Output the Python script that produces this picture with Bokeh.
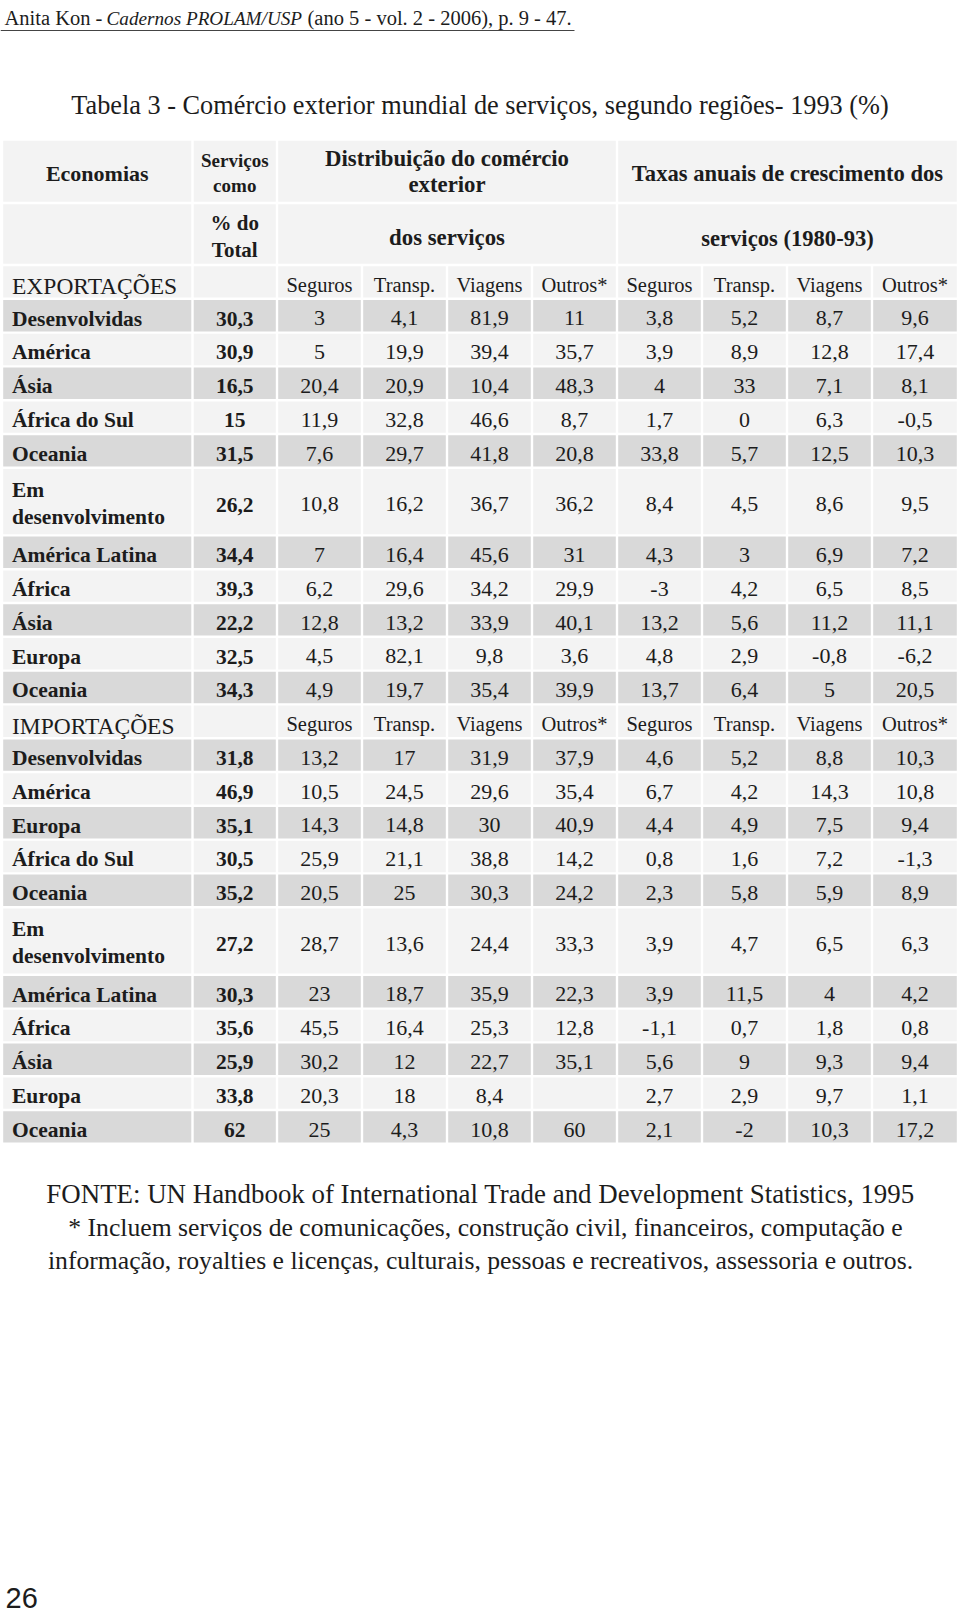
from bokeh.plotting import figure
from bokeh.models import Range1d, ColumnDataSource
from bokeh.embed import file_html
from bokeh.resources import INLINE
from bokeh.core.properties import value

# ------------------------------------------------------------------ data
running_head = ["Anita Kon -", "Cadernos PROLAM/USP", "(ano 5 - vol. 2 - 2006), p. 9 - 47."]
title = "Tabela 3 - Comércio exterior mundial de serviços, segundo regiões- 1993 (%)"
sub_cols = ["Seguros", "Transp.", "Viagens", "Outros*"]
footer_lines = [
    "FONTE: UN Handbook of International Trade and Development Statistics, 1995",
    "* Incluem serviços de comunicações, construção civil, financeiros, computação e",
    "informação, royalties e licenças, culturais, pessoas e recreativos, assessoria e outros.",
]
page_number = "26"

exp_economias = ["Desenvolvidas", "América", "Ásia", "África do Sul", "Oceania",
                 "Em desenvolvimento", "América Latina", "África", "Ásia", "Europa", "Oceania"]
exp_pct_total = [30.3, 30.9, 16.5, 15, 31.5, 26.2, 34.4, 39.3, 22.2, 32.5, 34.3]
exp_dist_seguros = [3, 5, 20.4, 11.9, 7.6, 10.8, 7, 6.2, 12.8, 4.5, 4.9]
exp_dist_transp = [4.1, 19.9, 20.9, 32.8, 29.7, 16.2, 16.4, 29.6, 13.2, 82.1, 19.7]
exp_dist_viagens = [81.9, 39.4, 10.4, 46.6, 41.8, 36.7, 45.6, 34.2, 33.9, 9.8, 35.4]
exp_dist_outros = [11, 35.7, 48.3, 8.7, 20.8, 36.2, 31, 29.9, 40.1, 3.6, 39.9]
exp_taxa_seguros = [3.8, 3.9, 4, 1.7, 33.8, 8.4, 4.3, -3, 13.2, 4.8, 13.7]
exp_taxa_transp = [5.2, 8.9, 33, 0, 5.7, 4.5, 3, 4.2, 5.6, 2.9, 6.4]
exp_taxa_viagens = [8.7, 12.8, 7.1, 6.3, 12.5, 8.6, 6.9, 6.5, 11.2, -0.8, 5]
exp_taxa_outros = [9.6, 17.4, 8.1, -0.5, 10.3, 9.5, 7.2, 8.5, 11.1, -6.2, 20.5]

imp_economias = ["Desenvolvidas", "América", "Europa", "África do Sul", "Oceania",
                 "Em desenvolvimento", "América Latina", "África", "Ásia", "Europa", "Oceania"]
imp_pct_total = [31.8, 46.9, 35.1, 30.5, 35.2, 27.2, 30.3, 35.6, 25.9, 33.8, 62]
imp_dist_seguros = [13.2, 10.5, 14.3, 25.9, 20.5, 28.7, 23, 45.5, 30.2, 20.3, 25]
imp_dist_transp = [17, 24.5, 14.8, 21.1, 25, 13.6, 18.7, 16.4, 12, 18, 4.3]
imp_dist_viagens = [31.9, 29.6, 30, 38.8, 30.3, 24.4, 35.9, 25.3, 22.7, 8.4, 10.8]
imp_dist_outros = [37.9, 35.4, 40.9, 14.2, 24.2, 33.3, 22.3, 12.8, 35.1, None, 60]
imp_taxa_seguros = [4.6, 6.7, 4.4, 0.8, 2.3, 3.9, 3.9, -1.1, 5.6, 2.7, 2.1]
imp_taxa_transp = [5.2, 4.2, 4.9, 1.6, 5.8, 4.7, 11.5, 0.7, 9, 2.9, -2]
imp_taxa_viagens = [8.8, 14.3, 7.5, 7.2, 5.9, 6.5, 4, 1.8, 9.3, 9.7, 10.3]
imp_taxa_outros = [10.3, 10.8, 9.4, -1.3, 8.9, 6.3, 4.2, 0.8, 9.4, 1.1, 17.2]

sections = [
    ("EXPORTAÇÕES", exp_economias, [exp_pct_total, exp_dist_seguros, exp_dist_transp, exp_dist_viagens,
                                    exp_dist_outros, exp_taxa_seguros, exp_taxa_transp, exp_taxa_viagens,
                                    exp_taxa_outros]),
    ("IMPORTAÇÕES", imp_economias, [imp_pct_total, imp_dist_seguros, imp_dist_transp, imp_dist_viagens,
                                    imp_dist_outros, imp_taxa_seguros, imp_taxa_transp, imp_taxa_viagens,
                                    imp_taxa_outros]),
]

# ------------------------------------------------------------------ layout
SERIF = value("Liberation Serif")
INK = "#1c1c1c"
LIGHT, DARK = "#f3f3f3", "#d9d9d9"
B = [1.5, 192, 276.5, 361.5, 446.5, 531.5, 616.5, 701.5, 786.5, 871.5, 957.5]
G = 1.2
H_TOP, H_MID, H_BOT = 139, 202.5, 264.5
PITCH = 33.8
K_BASE = 0.33   # correction of the rendered baseline (fraction of font size)


def fmt(v):
    if v is None:
        return ""
    return f"{v:g}".replace(".", ",")


def ccenter(c0, c1):
    return (B[c0] + B[c1]) / 2


p = figure(width=958, height=1615, x_range=Range1d(0, 958), y_range=Range1d(1615, 0),
           x_axis_type=None, y_axis_type=None, toolbar_location=None, output_backend="svg",
           min_border=0, outline_line_color=None, background_fill_color="white",
           border_fill_color="white", title_location=None)
p.grid.visible = False

cells = dict(left=[], right=[], top=[], bottom=[], color=[])


def cell(c0, c1, y0, y1, color):
    cells["left"].append(B[c0] + G)
    cells["right"].append(B[c1] - G)
    cells["top"].append(y0 + G)
    cells["bottom"].append(y1 - G)
    cells["color"].append(color)


texts = {}


def txt(x, y, s, size, style="normal", align="center", font=SERIF):
    key = (size, style, align, font.value)
    d = texts.setdefault(key, dict(x=[], y=[], text=[]))
    d["x"].append(x)
    d["y"].append(y - K_BASE * float(size.replace("px", "")))
    d["text"].append(s)


# header cells
for (y0, y1) in [(H_TOP, H_MID), (H_MID, H_BOT)]:
    cell(0, 1, y0, y1, LIGHT)
    cell(1, 2, y0, y1, LIGHT)
    cell(2, 6, y0, y1, LIGHT)
    cell(6, 10, y0, y1, LIGHT)

txt(ccenter(0, 1), 180, "Economias", "22px", "bold")
txt(ccenter(1, 2), 166, "Serviços", "19px", "bold")
txt(ccenter(1, 2), 191.5, "como", "19px", "bold")
txt(ccenter(1, 2), 229, "% do", "21px", "bold")
txt(ccenter(1, 2), 256.5, "Total", "21px", "bold")
txt(ccenter(2, 6), 166, "Distribuição do comércio", "22.8px", "bold")
txt(ccenter(2, 6), 191.5, "exterior", "22.8px", "bold")
txt(ccenter(2, 6), 245, "dos serviços", "22.8px", "bold")
txt(ccenter(6, 10), 180, "Taxas anuais de crescimento dos", "22.6px", "bold")
txt(ccenter(6, 10), 245, "serviços (1980-93)", "22.6px", "bold")

y = H_BOT
idx = 0
for name, econ, cols in sections:
    color = LIGHT if idx % 2 == 0 else DARK
    cell(0, 1, y, y + PITCH, color)
    cell(1, 2, y, y + PITCH, color)
    yc = y + PITCH / 2
    txt(11.5, yc + 12, name, "23.5px", "normal", "left")
    for k in range(8):
        cell(2 + k, 3 + k, y, y + PITCH, color)
        txt(ccenter(2 + k, 3 + k), yc + 9.5, sub_cols[k % 4], "20.5px")
    idx += 1
    y += PITCH
    for i, label in enumerate(econ):
        units = 2 if len(label) > 15 else 1
        h = units * PITCH
        color = LIGHT if idx % 2 == 0 else DARK
        yc = y + h / 2
        for c in range(10):
            cell(c, c + 1, y, y + h, color)
        if units == 2:
            first, rest = label.split(" ", 1)
            txt(11.5, yc - 5, first, "21.5px", "bold", "left")
            txt(11.5, yc + 22, rest, "21.5px", "bold", "left")
        else:
            txt(11.5, yc + 10, label, "21.5px", "bold", "left")
        for k, col in enumerate(cols):
            txt(ccenter(k + 1, k + 2), yc + 10, fmt(col[i]), "21.5px" if k == 0 else "22px",
                "bold" if k == 0 else "normal")
        idx += 1
        y += h

p.quad(left="left", right="right", top="top", bottom="bottom", fill_color="color",
       line_color=None, source=ColumnDataSource(cells))

# running head, title, footer, page number
txt(4, 24, running_head[0], "20.5px", "normal", "left")
txt(106, 24, running_head[1], "19.2px", "italic", "left")
txt(307, 24, running_head[2], "20.5px", "normal", "left")
p.segment(x0=[0], y0=[30], x1=[574], y1=[30], line_color="#444444", line_width=1)

txt(479.5, 114, title, "26.3px")
footer_sizes = ["26.9px", "25.7px", "25.7px"]
footer_centers = [480, 485, 480]
for j, line in enumerate(footer_lines):
    txt(footer_centers[j], 1202 + 33 * j, line, footer_sizes[j])
txt(5, 1607, page_number, "29px", "normal", "left", value("Liberation Sans"))

for (size, style, align, font), d in texts.items():
    p.text(x="x", y="y", text="text", source=ColumnDataSource(d), text_font=value(font),
           text_font_size=size, text_font_style=style, text_align=align,
           text_baseline="alphabetic", text_color=INK)

open("out.html", "w").write(file_html(p, INLINE))
